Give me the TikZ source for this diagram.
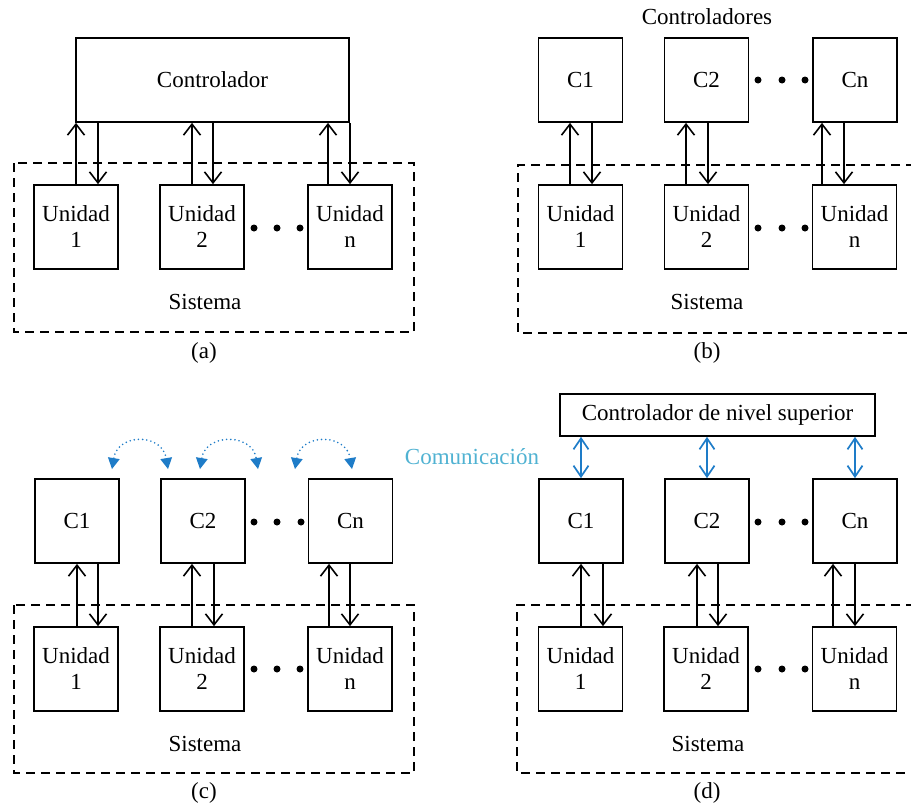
\documentclass[tikz,border=0pt]{standalone}
\usepackage{fontspec}
\setmainfont{Liberation Serif}
\usetikzlibrary{arrows.meta}
\definecolor{cblue}{RGB}{30,124,200}
\definecolor{lblue}{RGB}{80,178,210}
\newcommand\arrpair[4]{%
  \draw[arr] ([xshift=#3]#1.north) -- ([xshift=#3]#1.north |- #2.south);
  \draw[arr] ([xshift=#4]#1.north |- #2.south) -- ([xshift=#4]#1.north);}
\begin{document}
\begin{tikzpicture}[x=1pt,y=-1pt,
  every node/.style={font=\fontsize{23}{26}\selectfont},
  box/.style={draw, line width=1.7pt, minimum width=84pt, minimum height=84pt, inner sep=0pt, align=center},
  arr/.style={line width=1.6pt, -{Straight Barb[length=11pt,width=17pt,line width=1.6pt]}},
  sys/.style={draw, line width=1.6pt, dash pattern=on 9pt off 6pt},
  dotn/.style={circle, fill, inner sep=0pt, minimum size=7pt},
  comm/.style={draw=cblue, line width=1.8pt, dash pattern=on 0pt off 4.2pt, line cap=round,
    {Triangle[length=11pt,width=12pt,fill=cblue,line width=0pt]}-{Triangle[length=11pt,width=12pt,fill=cblue,line width=0pt]}},
  barr/.style={draw=cblue, line width=1.7pt, {Straight Barb[length=11pt,width=15pt,line width=1.7pt]}-{Straight Barb[length=11pt,width=15pt,line width=1.7pt]}}
  ]
\useasboundingbox (0,0) rectangle (911,806);

% ---------------- (a)
\draw[sys] (14,163) rectangle (414,332);
\node[draw, line width=1.7pt, minimum width=273pt, minimum height=84pt, inner sep=0pt] (ca) at (212.5,80) {Controlador};
\node[box] (ua1) at (76,227) {Unidad\\1};
\node[box] (ua2) at (202,227) {Unidad\\2};
\node[box] (uan) at (350,227) {Unidad\\n};
\arrpair{ua1}{ca}{0pt}{22pt}
\arrpair{ua2}{ca}{-10pt}{11pt}
\arrpair{uan}{ca}{-22pt}{0pt}
\node[dotn] (da1) at (254,228) {};
\node[dotn] (da2) at (277,228) {};
\node[dotn] (da3) at (300,228) {};
\node (sa) at (205,302) {Sistema};
\node (la) at (204,353) {(a)};

% ---------------- (b)
\draw[sys] (915,165) -| (518,333) -- (915,333);
\node (tb) at (707,17) {Controladores};
\node[box] (cb1) at (580.5,80) {C1};
\node[box] (cb2) at (706.5,80) {C2};
\node[box] (cbn) at (855,80) {Cn};
\node[box] (ub1) at (580.5,227) {Unidad\\1};
\node[box] (ub2) at (706.5,227) {Unidad\\2};
\node[box] (ubn) at (854.5,227) {Unidad\\n};
\arrpair{ub1}{cb1}{-10.5pt}{11.5pt}
\arrpair{ub2}{cb2}{-20.5pt}{1.5pt}
\arrpair{ubn}{cbn}{-32.5pt}{-10.5pt}
\node[dotn] (db1) at (758,80) {};
\node[dotn] (db2) at (782,80) {};
\node[dotn] (db3) at (805,80) {};
\node[dotn] (db4) at (758,228) {};
\node[dotn] (db5) at (782,228) {};
\node[dotn] (db6) at (805,228) {};
\node (sb) at (707,302) {Sistema};
\node (lb) at (707,353) {(b)};

% ---------------- (c)
\draw[sys] (14,605) rectangle (414,773);
\node[box] (cc1) at (77,521) {C1};
\node[box] (cc2) at (203,521) {C2};
\node[box] (ccn) at (350.5,521) {Cn};
\node[box] (uc1) at (76,669) {Unidad\\1};
\node[box] (uc2) at (202,669) {Unidad\\2};
\node[box] (ucn) at (350,669) {Unidad\\n};
\arrpair{uc1}{cc1}{1pt}{22pt}
\arrpair{uc2}{cc2}{-10pt}{12pt}
\arrpair{ucn}{ccn}{-21pt}{0pt}
\node[dotn] (dc1) at (254,522) {};
\node[dotn] (dc2) at (277,522) {};
\node[dotn] (dc3) at (301,522) {};
\node[dotn] (dc4) at (254,669) {};
\node[dotn] (dc5) at (277,669) {};
\node[dotn] (dc6) at (300,669) {};
\coordinate (k1) at (112,469);
\coordinate (k2) at (168,469);
\coordinate (k3) at (200,469);
\coordinate (k4) at (258,469);
\coordinate (k5) at (295,469);
\coordinate (k6) at (352,469);
\draw[comm] (k1) .. controls (118,433) and (162,433) .. (k2);
\draw[comm] (k3) .. controls (206,433) and (252,433) .. (k4);
\draw[comm] (k5) .. controls (301,433) and (346,433) .. (k6);
\node (sc) at (205,744) {Sistema};
\node (lc) at (204,793) {(c)};

% ---------------- (d)
\draw[sys] (915,605) -| (517,773) -- (915,773);
\node[draw, line width=1.7pt, minimum width=315pt, minimum height=42pt, inner sep=0pt] (td) at (717.5,415) {Controlador de nivel superior};
\node[text=lblue] (cm) at (472,457) {Comunicación};
\node[box] (cd1) at (581,521) {C1};
\node[box] (cd2) at (707,521) {C2};
\node[box] (cdn) at (855,521) {Cn};
\node[box] (ud1) at (580.5,669) {Unidad\\1};
\node[box] (ud2) at (706,669) {Unidad\\2};
\node[box] (udn) at (854.5,669) {Unidad\\n};
\arrpair{ud1}{cd1}{0.5pt}{22.5pt}
\arrpair{ud2}{cd2}{-9pt}{12pt}
\arrpair{udn}{cdn}{-21.5pt}{0.5pt}
\draw[barr] (td.south -| cd1.north) -- (cd1.north);
\draw[barr] (td.south -| cd2.north) -- (cd2.north);
\draw[barr] (td.south -| cdn.north) -- (cdn.north);
\node[dotn] (dd1) at (758,522) {};
\node[dotn] (dd2) at (782,522) {};
\node[dotn] (dd3) at (805,522) {};
\node[dotn] (dd4) at (758,669) {};
\node[dotn] (dd5) at (782,669) {};
\node[dotn] (dd6) at (805,669) {};
\node (sd) at (708,744) {Sistema};
\node (ld) at (707,793) {(d)};
\end{tikzpicture}
\end{document}
